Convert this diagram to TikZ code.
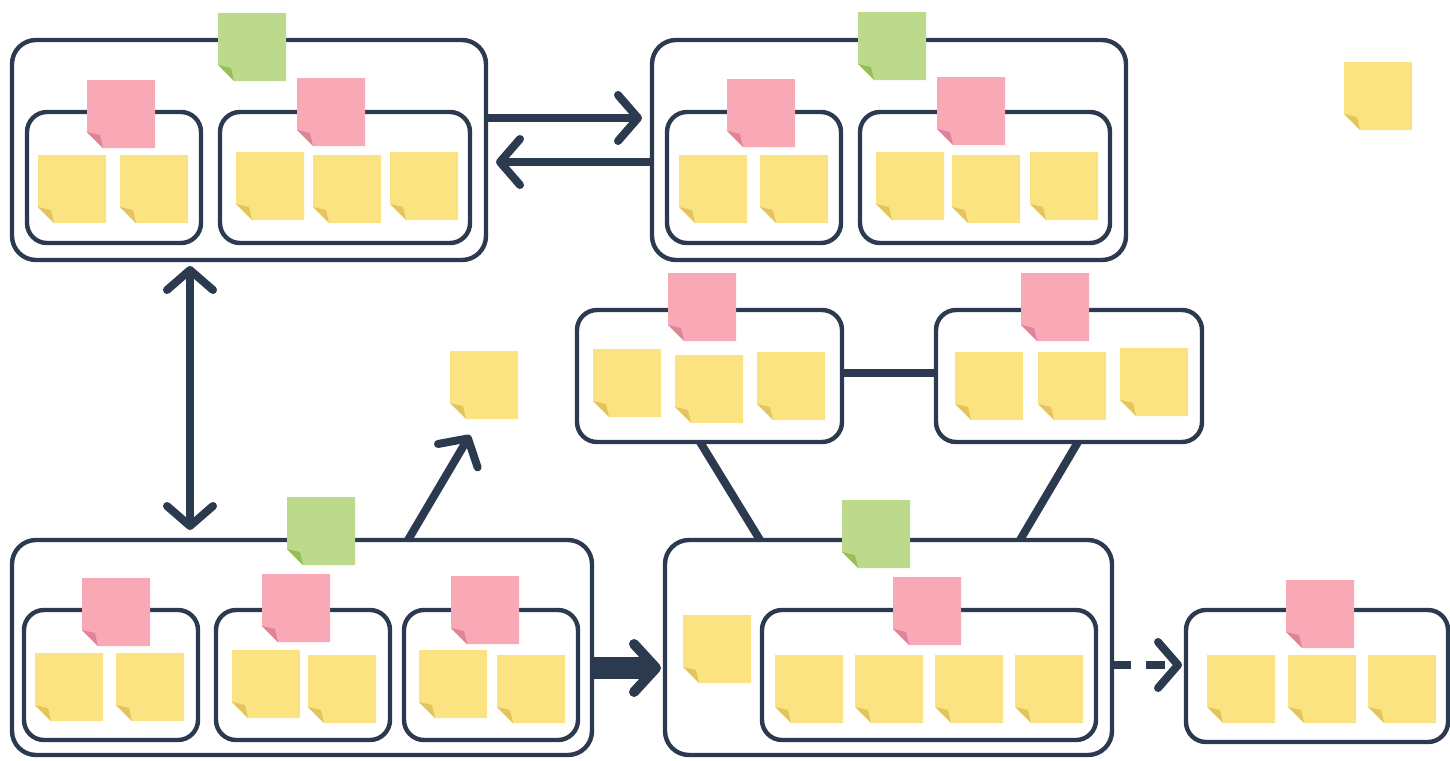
\documentclass[tikz,border=0pt]{standalone}
\usetikzlibrary{arrows.meta,fit,calc}
\definecolor{ink}{RGB}{44,58,80}
\definecolor{ylw}{RGB}{250,227,128}
\definecolor{ylwfold}{RGB}{228,196,92}
\definecolor{pnk}{RGB}{249,168,182}
\definecolor{pnkfold}{RGB}{222,132,150}
\definecolor{grn}{RGB}{189,218,140}
\definecolor{grnfold}{RGB}{150,192,84}
\begin{document}
\begin{tikzpicture}[x=0.5pt,y=-0.5pt,
  outerbox/.style={draw=ink, line width=2.2pt, rounded corners=12pt, inner sep=0pt, outer sep=0pt},
  innerbox/.style={draw=ink, line width=2.2pt, rounded corners=10pt, inner sep=0pt, outer sep=0pt},
  sticky/.style={anchor=north west, minimum size=34pt, inner sep=0pt, outer sep=0pt,
    path picture={
      \fill[#1] (path picture bounding box.north west) -- (path picture bounding box.north east)
        -- (path picture bounding box.south east) -- ([xshift=8pt]path picture bounding box.south west)
        -- ([yshift=8pt]path picture bounding box.south west) -- cycle;
      \fill[#1fold] ([yshift=8pt]path picture bounding box.south west)
        -- ([xshift=8pt]path picture bounding box.south west)
        -- ([xshift=6.5pt,yshift=6.5pt]path picture bounding box.south west) -- cycle;
    }},
  link/.style={draw=ink, line width=4pt},
  barb/.style={-{Straight Barb[length=10pt,width=23pt,round]}},
  dbarb/.style={{Straight Barb[length=10pt,width=23pt,round]}-{Straight Barb[length=10pt,width=23pt,round]}}
]
\useasboundingbox (0,0) rectangle (1450,760);
\fill[white] (0,0) rectangle (1450,760);

% ---------- boxes ----------
\node[outerbox, fit={(12,40) (486,260)}] (A) {};
\node[innerbox, fit={(27,112) (201,243)}] (A1) {};
\node[innerbox, fit={(220,112) (470,243)}] (A2) {};

\node[outerbox, fit={(652,40) (1126,260)}] (B) {};
\node[innerbox, fit={(667,112) (841,243)}] (B1) {};
\node[innerbox, fit={(860,112) (1110,243)}] (B2) {};

\node[innerbox, fit={(577,310) (842,442)}] (C) {};
\node[innerbox, fit={(936,310) (1202,442)}] (D) {};

\node[outerbox, fit={(12,540) (592,755)}] (E) {};
\node[innerbox, fit={(24,610) (198,740)}] (E1) {};
\node[innerbox, fit={(216,610) (390,740)}] (E2) {};
\node[innerbox, fit={(404,610) (578,740)}] (E3) {};

\node[outerbox, fit={(665,540) (1112,755)}] (F) {};
\node[innerbox, fit={(762,610) (1096,740)}] (F1) {};

\node[innerbox, fit={(1186,610) (1448,742)}] (G) {};

% ---------- connectors ----------
\coordinate (yt) at (0,118);
\coordinate (yb) at (0,162);
\draw[link, barb, shorten >=5pt] (A.east |- yt) -- (B.west |- yt);
\draw[link, barb, shorten >=5pt] (B.west |- yb) -- (A.east |- yb);

\coordinate (xv) at (190,0);
\draw[link, dbarb, shorten <=3pt, shorten >=5pt] (A.south -| xv) -- (E.north -| xv);

\coordinate (ycd) at (0,373);
\draw[link] (C.east |- ycd) -- (D.west |- ycd);
\coordinate (xc1) at (700,0);
\coordinate (xf1) at (760,0);
\coordinate (xd1) at (1078,0);
\coordinate (xf2) at (1020,0);
\draw[link] (C.south -| xc1) -- (F.north -| xf1);
\draw[link] (D.south -| xd1) -- (F.north -| xf2);

\coordinate (xe) at (408,0);
\coordinate (tip) at (470,435);
\draw[link, barb] (E.north -| xe) -- (tip);

\coordinate (yef) at (0,668);
\draw[draw=ink, line width=11pt, -{Straight Barb[length=11pt,width=24pt,line width=5pt,round]}, shorten >=2pt]
  (E.east |- yef) -- (F.west |- yef);

\coordinate (yfg) at (0,665);
\draw[link, dash pattern=on 9.5pt off 7.5pt, barb, shorten >=2pt] (F.east |- yfg) -- (G.west |- yfg);

% ---------- sticky notes ----------
% box A
\node[sticky=grn] (gA) at (218,13) {};
\node[sticky=pnk] (pA1) at (87,80) {};
\node[sticky=ylw] (yA11) at (38,155) {};
\node[sticky=ylw] (yA12) at (120,155) {};
\node[sticky=pnk] (pA2) at (297,78) {};
\node[sticky=ylw] (yA21) at (236,152) {};
\node[sticky=ylw] (yA22) at (313,155) {};
\node[sticky=ylw] (yA23) at (390,152) {};
% box B
\node[sticky=grn] (gB) at (858,12) {};
\node[sticky=pnk] (pB1) at (727,79) {};
\node[sticky=ylw] (yB11) at (679,155) {};
\node[sticky=ylw] (yB12) at (760,155) {};
\node[sticky=pnk] (pB2) at (937,77) {};
\node[sticky=ylw] (yB21) at (876,152) {};
\node[sticky=ylw] (yB22) at (952,155) {};
\node[sticky=ylw] (yB23) at (1030,152) {};
% lone notes
\node[sticky=ylw] (yTR) at (1344,62) {};
\node[sticky=ylw] (yMid) at (450,351) {};
% box C
\node[sticky=pnk] (pC) at (668,273) {};
\node[sticky=ylw] (yC1) at (593,349) {};
\node[sticky=ylw] (yC2) at (675,355) {};
\node[sticky=ylw] (yC3) at (757,352) {};
% box D
\node[sticky=pnk] (pD) at (1021,273) {};
\node[sticky=ylw] (yD1) at (955,352) {};
\node[sticky=ylw] (yD2) at (1038,352) {};
\node[sticky=ylw] (yD3) at (1120,348) {};
% box E
\node[sticky=grn] (gE) at (287,497) {};
\node[sticky=pnk] (pE1) at (82,578) {};
\node[sticky=ylw] (yE11) at (35,653) {};
\node[sticky=ylw] (yE12) at (116,653) {};
\node[sticky=pnk] (pE2) at (262,574) {};
\node[sticky=ylw] (yE21) at (232,650) {};
\node[sticky=ylw] (yE22) at (308,655) {};
\node[sticky=pnk] (pE3) at (451,576) {};
\node[sticky=ylw] (yE31) at (419,650) {};
\node[sticky=ylw] (yE32) at (497,655) {};
% box F
\node[sticky=grn] (gF) at (842,500) {};
\node[sticky=ylw] (yF0) at (683,615) {};
\node[sticky=pnk] (pF1) at (893,577) {};
\node[sticky=ylw] (yF1) at (775,655) {};
\node[sticky=ylw] (yF2) at (855,655) {};
\node[sticky=ylw] (yF3) at (935,655) {};
\node[sticky=ylw] (yF4) at (1015,655) {};
% box G
\node[sticky=pnk] (pG) at (1286,580) {};
\node[sticky=ylw] (yG1) at (1207,655) {};
\node[sticky=ylw] (yG2) at (1288,655) {};
\node[sticky=ylw] (yG3) at (1368,655) {};
\end{tikzpicture}
\end{document}
